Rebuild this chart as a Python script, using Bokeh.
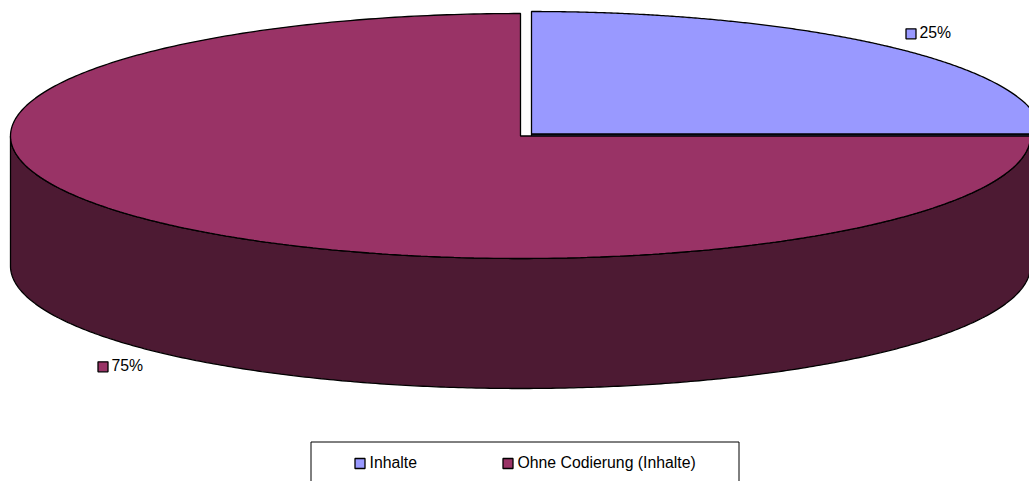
import numpy as np
from bokeh.plotting import figure
from bokeh.models import Range1d
from bokeh.core.properties import value
from bokeh.embed import file_html
from bokeh.resources import INLINE

categories = ["Inhalte", "Ohne Codierung (Inhalte)"]
shares = [25, 75]
point_labels = ["25%", "75%"]
top_colors = ["#9999ff", "#993366"]
side_colors = ["#4d4d80", "#4d1a33"]

W, H = 1029, 481
CX, CY, RX, RY, DEPTH = 520, 135.5, 510, 122.5, 130
EXPLODE = [(11, -2), (0, 0)]
FONT = value("Liberation Sans")
FS = "15.8px"

p = figure(width=W, height=H, x_range=Range1d(0, W), y_range=Range1d(H, 0),
           output_backend="svg", toolbar_location=None, min_border=0,
           outline_line_color=None, background_fill_color="white", border_fill_color="white")
p.axis.visible = False
p.grid.visible = False


def rim(a0, a1, dx, dy):
    t = np.radians(np.linspace(a0, a1, 361))
    return CX + dx + RX * np.sin(t), CY + dy - RY * np.cos(t)


fractions = np.cumsum([0] + shares) / sum(shares) * 360
for i in range(len(shares)):
    a0, a1 = fractions[i], fractions[i + 1]
    dx, dy = EXPLODE[i]
    # side wall: the part of the rim facing the viewer
    s0, s1 = max(a0, 90), min(a1, 270)
    if s1 > s0:
        x, y = rim(s0, s1, dx, dy)
        p.patch(np.r_[x, x[::-1]], np.r_[y, y[::-1] + DEPTH],
                fill_color=side_colors[i], line_color="black", line_width=1.3)
    else:
        # flat cut wall seen edge-on below the exploded slice
        x, y = rim(a1, a1, dx, dy)
        xs = [CX + dx, x[0], x[0], CX + dx]
        ys = [CY + dy, y[0], y[0] + DEPTH, CY + dy + DEPTH]
        p.patch(xs, ys, fill_color=side_colors[i], line_color="black", line_width=1.3)

for i in range(len(shares)):
    a0, a1 = fractions[i], fractions[i + 1]
    dx, dy = EXPLODE[i]
    x, y = rim(a0, a1, dx, dy)
    p.patch(np.r_[CX + dx, x], np.r_[CY + dy, y],
            fill_color=top_colors[i], line_color="black", line_width=1.3)

# data labels with swatches
label_x = [905.5, 97.5]
label_y = [33.3, 366.3]
for i in range(2):
    p.rect(label_x[i] + 5, label_y[i], width=10, height=10, fill_color=top_colors[i],
           line_color="black", line_width=1.3)
    p.text([label_x[i] + 13.5], [label_y[i] - 1], text=[point_labels[i]], text_font=FONT,
           text_font_size=FS, text_color="black", text_baseline="middle", text_align="left")

# legend box, cut by the bottom edge of the picture
p.quad(left=[310.5], right=[738.5], top=[441.5], bottom=[500], fill_color="white",
       line_color="black", line_width=1)
legend_x = [354.5, 502.5]
for i in range(2):
    p.rect(legend_x[i] + 5, 463, width=10, height=10, fill_color=top_colors[i],
           line_color="black", line_width=1.3)
    p.text([legend_x[i] + 14.5], [462], text=[categories[i]], text_font=FONT,
           text_font_size=FS, text_color="black", text_baseline="middle", text_align="left")

open("out.html", "w").write(file_html(p, INLINE))
